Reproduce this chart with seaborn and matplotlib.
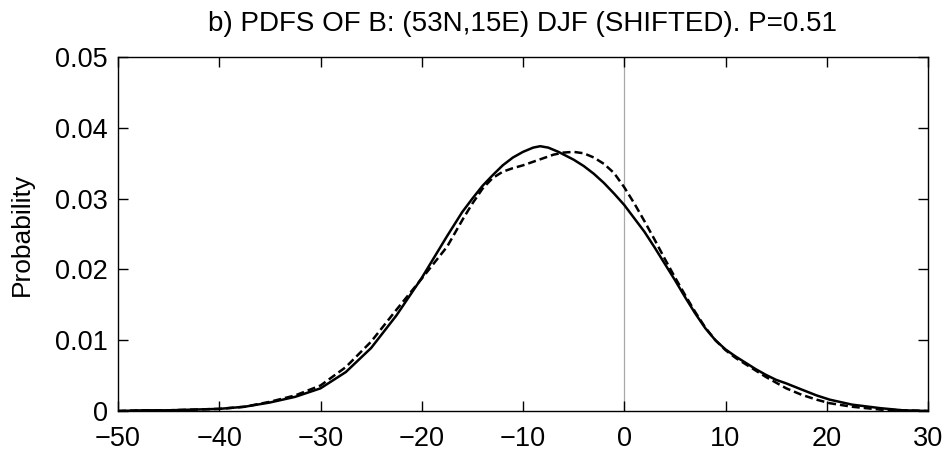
import matplotlib
matplotlib.use("Agg")
import matplotlib.pyplot as plt
import seaborn as sns
import pandas as pd

# ---- data ----
solid_x = [-50, -47.5, -45, -42.5, -40, -37.5, -35, -32.5, -30, -27.5, -25, -22.5,
           -20, -17.5, -16, -15, -14, -13, -12, -11, -10, -9, -8.3, -7.5, -6.5, -5,
           -4, -3, -2, -1, 0, 1, 2, 3, 4, 5, 6, 7, 8, 9, 10, 11, 12, 13, 14, 15,
           16, 17.4, 19, 20.3, 22.5, 25.3, 27.5, 30]
solid_y = [0.0000, 0.0001, 0.0001, 0.0002, 0.0003, 0.0006, 0.0012, 0.0020, 0.0032,
           0.0055, 0.0089, 0.0135, 0.0188, 0.0247, 0.0281, 0.0300, 0.0318, 0.0333,
           0.0347, 0.0358, 0.0366, 0.0372, 0.0374, 0.0372, 0.0366, 0.0355, 0.0346,
           0.0335, 0.0322, 0.0307, 0.0291, 0.0272, 0.0253, 0.0231, 0.0208, 0.0185,
           0.0161, 0.0138, 0.0117, 0.0100, 0.0087, 0.0077, 0.0068, 0.0059, 0.0051,
           0.0044, 0.0039, 0.0031, 0.0022, 0.0016, 0.0009, 0.0004, 0.0001, 0.0000]

dashed_x = [-50, -47.5, -45, -42.5, -40, -37.5, -35, -32.5, -30, -27.5, -25, -22.5,
            -20, -17.5, -15.9, -15, -14, -13, -12, -11, -10, -9, -8, -7, -6, -5,
            -4, -3, -2, -1, 0, 1, 2, 3, 4, 5, 6, 7, 8, 9, 10, 11, 12, 13, 14, 15,
            16, 17.5, 19, 20.3, 22.5, 25.3, 27.5, 30]
dashed_y = [0.0000, 0.0001, 0.0001, 0.0002, 0.0003, 0.0006, 0.0013, 0.0022, 0.0036,
            0.0062, 0.0098, 0.0143, 0.0187, 0.0232, 0.0272, 0.0293, 0.0314, 0.0329,
            0.0338, 0.0343, 0.0347, 0.0352, 0.0357, 0.0362, 0.0365, 0.0366, 0.0364,
            0.0358, 0.0349, 0.0336, 0.0316, 0.0293, 0.0268, 0.0242, 0.0215, 0.0189,
            0.0164, 0.0140, 0.0118, 0.0100, 0.0086, 0.0075, 0.0066, 0.0057, 0.0048,
            0.0040, 0.0032, 0.0023, 0.0016, 0.0011, 0.0006, 0.0002, 0.0001, 0.0000]

x_ticks = [-50, -40, -30, -20, -10, 0, 10, 20, 30]
y_ticks = [0, 0.01, 0.02, 0.03, 0.04, 0.05]
y_tick_labels = ["0", "0.01", "0.02", "0.03", "0.04", "0.05"]
zero_line = 0
title = "b) PDFS OF B: (53N,15E) DJF (SHIFTED). P=0.51"
ylabel = "Probability"

df = pd.concat([
    pd.DataFrame({"x": solid_x, "y": solid_y, "series": "solid"}),
    pd.DataFrame({"x": dashed_x, "y": dashed_y, "series": "dashed"}),
], ignore_index=True)

sns.set_theme(style="ticks")
plt.rcParams["font.family"] = ["Liberation Sans", "DejaVu Sans"]
plt.rcParams["text.color"] = "black"
plt.rcParams["axes.labelcolor"] = "black"

fig = plt.figure(figsize=(9.44, 4.51), dpi=100)
ax = fig.add_axes([118 / 944, 1 - 411 / 451, 810 / 944, 354 / 451])

ax.axvline(zero_line, color="#a8a8a8", lw=0.9, zorder=0)

sns.lineplot(data=df, x="x", y="y", hue="series", style="series",
             palette={"solid": "black", "dashed": "black"},
             dashes={"solid": "", "dashed": (3.2, 1.6)},
             linewidth=1.8, sort=False, estimator=None, legend=False, ax=ax)

ax.set_xlim(-50, 30)
ax.set_ylim(0, 0.05)
ax.set_xticks(x_ticks)
ax.set_xticklabels([str(v).replace("-", "\u2212") for v in x_ticks])
ax.set_yticks(y_ticks)
ax.set_yticklabels(y_tick_labels)
ax.set_xlabel("")
ax.set_ylabel(ylabel, fontsize=19, labelpad=15, color="black")
ax.set_title(title, fontsize=20, pad=19, color="black")

ax.tick_params(axis="both", direction="in", length=7, width=1, colors="black",
               labelsize=19.5, top=True, right=True)
ax.tick_params(axis="x", pad=11)
ax.tick_params(axis="y", pad=7.5)
for s in ax.spines.values():
    s.set_color("black")
    s.set_linewidth(1.0)
    s.set_visible(True)

fig.savefig("out.png", dpi=100)
